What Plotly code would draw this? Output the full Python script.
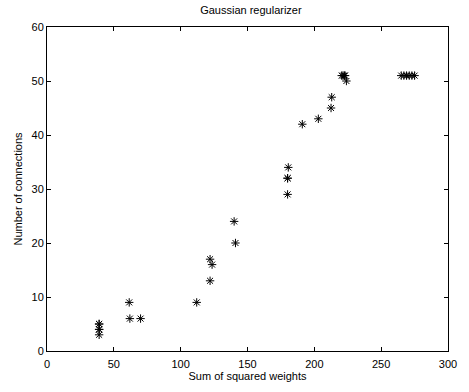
import plotly.graph_objects as go

sum_sq_weights = [39, 39, 39, 39, 39, 61.5, 62, 70, 112, 122, 122, 123.5, 140, 141,
                  180, 180, 180, 180.5, 191, 203, 212.5, 213, 220.5, 221.5, 222.5, 223, 224,
                  265, 267, 269, 271, 273, 275]
num_connections = [3, 4, 4, 5, 5, 9, 6, 6, 9, 13, 17, 16, 24, 20,
                   29, 32, 32, 34, 42, 43, 45, 47, 51, 51, 51, 51, 50,
                   51, 51, 51, 51, 51, 51]

x_ticks = [0, 50, 100, 150, 200, 250, 300]
y_ticks = [0, 10, 20, 30, 40, 50, 60]

fig = go.Figure()
fig.add_trace(go.Scatter(
    x=sum_sq_weights, y=num_connections, mode="markers",
    marker=dict(symbol="asterisk-open", size=7, color="black",
                line=dict(color="black", width=1)),
    showlegend=False,
))

font = dict(family="Liberation Sans, Arial, sans-serif", size=11, color="black")
axis_common = dict(
    showgrid=False, zeroline=False, showline=True, linecolor="black", linewidth=1,
    mirror="ticks", ticks="inside", ticklen=4, tickcolor="black", tickwidth=1,
    tickfont=font,
)
fig.update_layout(
    width=469, height=392,
    margin=dict(l=47, r=12, t=27, b=41),
    paper_bgcolor="white", plot_bgcolor="white",
    font=font,
    title=dict(text="Gaussian regularizer", x=0.535, xanchor="center",
               y=1 - 10 / 392, yanchor="middle", font=font),
    xaxis=dict(range=[0, 300], tickvals=x_ticks, ticktext=[str(v) for v in x_ticks],
               ticklabelstandoff=3,
               title=dict(text="Sum of squared weights", font=font, standoff=0),
               **axis_common),
    yaxis=dict(range=[0, 60], tickvals=y_ticks, ticktext=[str(v) for v in y_ticks],
               title=dict(text="Number of connections", font=font, standoff=6),
               **axis_common),
)
fig.write_html("out.html")
